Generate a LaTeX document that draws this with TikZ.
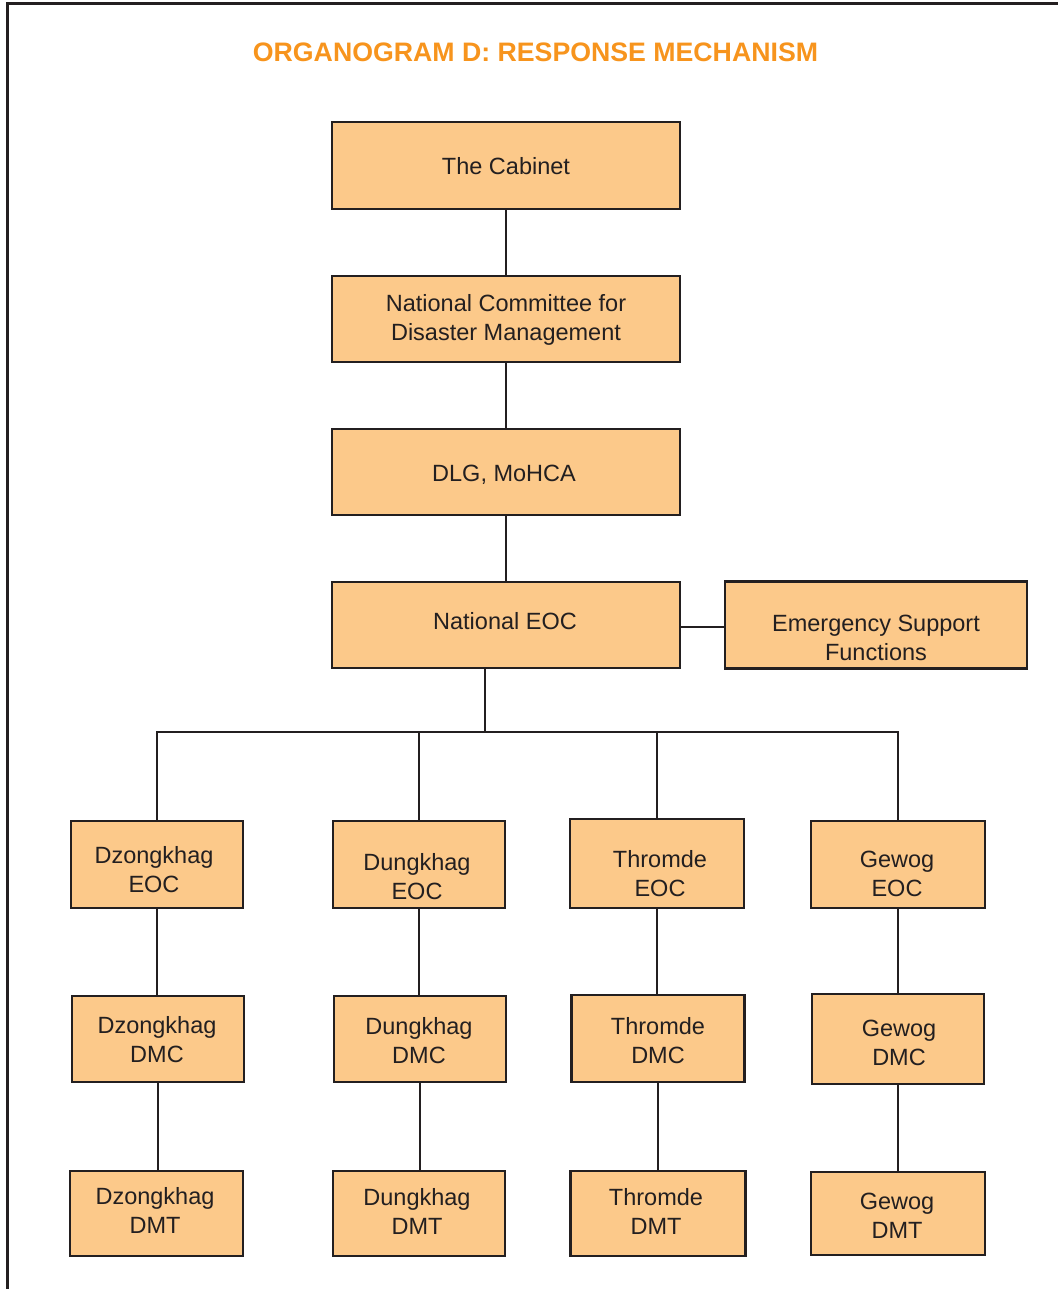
\documentclass[tikz,border=0pt]{standalone}
\usepackage{fontspec}
\setmainfont{Liberation Sans}
\definecolor{boxfill}{RGB}{252,201,138}
\definecolor{ink}{RGB}{35,31,32}
\definecolor{titleor}{RGB}{247,148,29}
\tikzset{
  orgbox/.style={draw=ink, fill=boxfill, line width=2.8pt, inner sep=0pt},
  lbl/.style={text=ink, align=center, inner sep=0pt, font=\fontsize{23.5}{29}\selectfont},
  link/.style={draw=ink, line width=2.8pt},
  frame/.style={draw=ink, line width=3pt}
}
\newcommand{\orgnode}[8]{%
  \node[orgbox, minimum width=#4pt, minimum height=#5pt] (#1) at (#2,#3) {};
  \node[lbl] (#1-t) at (#6,#7) {#8};
}
\begin{document}
\begin{tikzpicture}[x=1pt,y=-1pt]
\useasboundingbox (0,0) rectangle (1058,1289);
\draw[frame] (7,1289) -- (7,4) -- (1058,4);
\node[text=titleor, font=\bfseries\fontsize{26.7}{30}\selectfont, inner sep=0pt] (title) at (535.5,52) {ORGANOGRAM D: RESPONSE MECHANISM};
\coordinate (j) at (485,732);
\orgnode{cab}{506}{165.5}{348}{87}{506}{166}{The Cabinet}
\orgnode{ncdm}{506}{319}{348}{86}{506}{319.5}{National Committee for\\Disaster Management}
\orgnode{dlg}{506}{472}{348}{86}{504}{475}{DLG, MoHCA}
\orgnode{neoc}{506}{625}{348}{86}{505}{621}{National EOC}
\orgnode{esf}{876}{625}{302}{87}{876}{637.5}{Emergency Support\\Functions}
\orgnode{dzeoc}{157}{864.5}{172}{87}{154}{869.5}{Dzongkhag\\EOC}
\orgnode{dkeoc}{419}{864.5}{172}{87}{417}{876.5}{Dungkhag\\EOC}
\orgnode{theoc}{657}{863.5}{174}{89}{660}{873.5}{Thromde\\EOC}
\orgnode{gweoc}{898}{864.5}{174}{87}{897}{873.5}{Gewog\\EOC}
\orgnode{dzdmc}{158}{1039}{172}{86}{157}{1039.5}{Dzongkhag\\DMC}
\orgnode{dkdmc}{420}{1039}{172}{86}{419}{1040.5}{Dungkhag\\DMC}
\orgnode{thdmc}{658}{1038.5}{173}{87}{658}{1040.5}{Thromde\\DMC}
\orgnode{gwdmc}{898}{1039}{172}{90}{899}{1042.5}{Gewog\\DMC}
\orgnode{dzdmt}{156.5}{1213.5}{173}{85}{155}{1210.5}{Dzongkhag\\DMT}
\orgnode{dkdmt}{419}{1213.5}{172}{85}{417}{1211.5}{Dungkhag\\DMT}
\orgnode{thdmt}{658}{1213.5}{175}{85}{656}{1211.5}{Thromde\\DMT}
\orgnode{gwdmt}{898}{1213.5}{174}{83}{897}{1215.5}{Gewog\\DMT}
\draw[link] (cab.south) -- (ncdm.north);
\draw[link] (ncdm.south) -- (dlg.north);
\draw[link] (dlg.south) -- (neoc.north);
\draw[link] ([yshift=-2pt]neoc.east) -- ([yshift=-2pt]esf.west);
\draw[link] (neoc.south -| j) -- (j);
\draw[link] (dzeoc.north) |- (j) -| (gweoc.north);
\draw[link] (dkeoc.north) -- (dkeoc.north |- j);
\draw[link] (theoc.north) -- (theoc.north |- j);
\draw[link] (dzeoc.south) -- (dzeoc.south |- dzdmc.north);
\draw[link] (dzdmc.south) -- (dzdmc.south |- dzdmt.north);
\draw[link] (dkeoc.south) -- (dkeoc.south |- dkdmc.north);
\draw[link] (dkdmc.south) -- (dkdmc.south |- dkdmt.north);
\draw[link] (theoc.south) -- (theoc.south |- thdmc.north);
\draw[link] (thdmc.south) -- (thdmc.south |- thdmt.north);
\draw[link] (gweoc.south) -- (gweoc.south |- gwdmc.north);
\draw[link] (gwdmc.south) -- (gwdmc.south |- gwdmt.north);
\end{tikzpicture}
\end{document}
